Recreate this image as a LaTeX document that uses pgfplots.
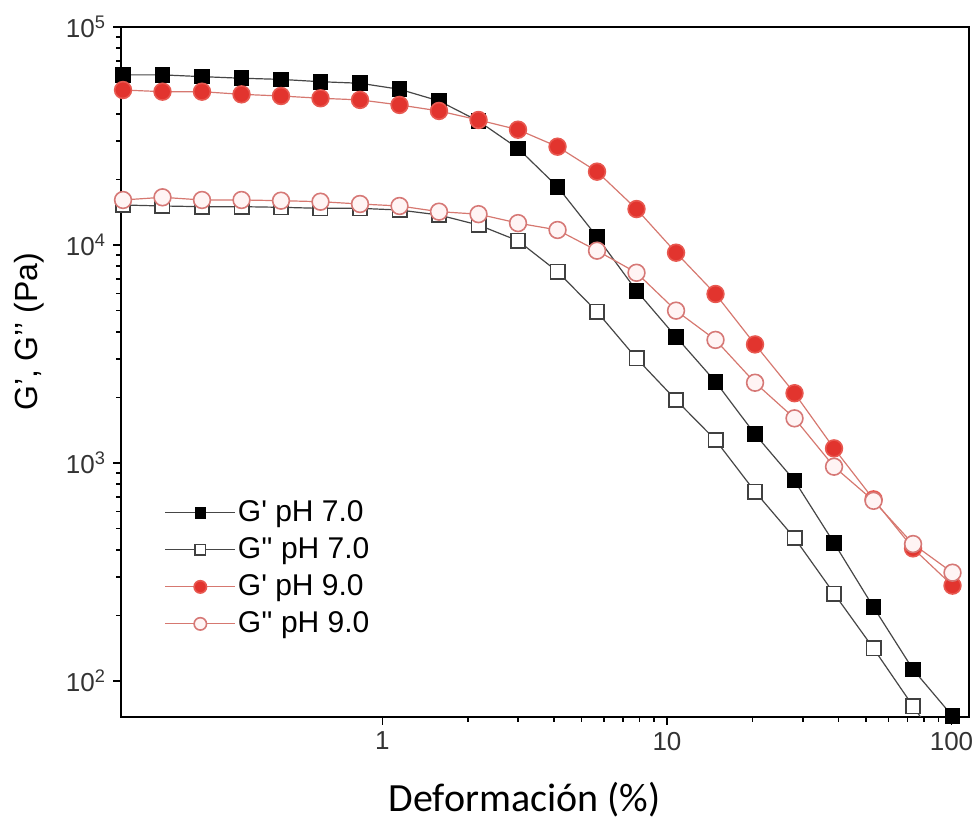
\documentclass[border=0pt]{standalone}
\usepackage{fontspec}
\setmainfont{Liberation Sans}[Ligatures=TeXOff]
\newfontfamily\carlito{Carlito}
\usepackage{pgfplots}
\pgfplotsset{compat=1.18}
\definecolor{redfill}{RGB}{226,52,46}
\definecolor{rededge}{RGB}{232,88,80}
\definecolor{redline}{RGB}{214,120,112}
\definecolor{pinkedge}{RGB}{214,120,118}
\definecolor{pinkfill}{RGB}{255,244,244}
\definecolor{darkline}{RGB}{70,70,70}
\begin{document}
\begin{tikzpicture}
\begin{axis}[
  xmode=log, ymode=log,
  scale only axis,
  width=424pt, height=345pt,
  xmin=0.1205, xmax=115.2,
  ymin=68.4, ymax=100000,
  axis line style={line width=1pt},
  tick align=outside,
  xtick pos=bottom, ytick pos=left,
  major tick length=4pt, minor tick length=2.5pt,
  tick style={line width=0.8pt, black},
  xtick={1,10,100}, xticklabels={1,10,100},
  ytick={100,1000,10000,100000},
  yticklabels={10\textsuperscript{2},10\textsuperscript{3},10\textsuperscript{4},10\textsuperscript{5}},
  tick label style={font=\fontsize{13}{15}\selectfont, text=black!80},
  xlabel={\carlito Deformación (\%)},
  ylabel={G’, G’’ (Pa)},
  xlabel style={at={(axis description cs:0.476,-0.1203)}, anchor=center, font=\fontsize{20}{24}\selectfont},
  ylabel style={at={(axis description cs:-0.1085,0.558)}, anchor=center, font=\fontsize{16}{19}\selectfont},
  legend style={at={(axis description cs:0.044,0.329)}, anchor=north west, draw=none, fill=none,
    font=\fontsize{15}{18}\selectfont, row sep=0pt,
    nodes={inner sep=1pt, minimum height=18.5pt}},
  legend cell align=left,
  legend image code/.code={\draw[mark repeat=2,mark phase=2,#1] plot coordinates {(0pt,0pt) (17.5pt,0pt) (35pt,0pt)};},
  /tikz/every even column/.append style={column sep=5pt},
]
\coordinate (sw) at (rel axis cs:0,0);
\coordinate (ne) at (rel axis cs:1,1);
% G' pH 7.0
\addplot[darkline, line width=0.6pt, mark=square*, mark size=3.6pt, mark options={fill=black, draw=black, solid},
  legend image post style={mark size=2.6pt}] coordinates {
(0.1225,60300) (0.1686,60300) (0.2321,59200) (0.3196,58200) (0.4399,57500) (0.6056,56100)
(0.8337,55200) (1.148,51800) (1.580,45800) (2.176,37000) (2.995,27750) (4.124,18500)
(5.677,10900) (7.815,6170) (10.76,3790) (14.81,2360) (20.39,1355) (28.07,830)
(38.65,430) (53.21,218) (73.25,113) (100.8,69)
};
\addlegendentry{G' pH 7.0}
% G'' pH 7.0
\addplot[darkline, line width=0.6pt, mark=square*, mark size=3.6pt, mark options={fill=white, draw=black!75, line width=0.8pt, solid},
  legend image post style={mark size=2.6pt}] coordinates {
(0.1225,15260) (0.1686,15100) (0.2321,14990) (0.3196,14990) (0.4399,14890) (0.6056,14730)
(0.8337,14730) (1.148,14470) (1.580,13730) (2.176,12350) (2.995,10460) (4.124,7550)
(5.677,4940) (7.815,3020) (10.76,1945) (14.81,1275) (20.39,739) (28.07,453)
(38.65,252) (53.21,141) (73.25,76.7) (100.8,42)
};
\addlegendentry{G'' pH 7.0}
% G' pH 9.0
\addplot[redline, line width=0.6pt, mark=*, mark size=4.2pt, mark options={fill=redfill, draw=rededge, line width=0.8pt, solid},
  legend image post style={mark size=3.1pt}] coordinates {
(0.1225,51400) (0.1686,50500) (0.2321,50500) (0.3196,49100) (0.4399,48250) (0.6056,47100)
(0.8337,46300) (1.148,43900) (1.580,41200) (2.176,37450) (2.995,33800) (4.124,28250)
(5.677,21700) (7.815,14620) (10.76,9220) (14.81,5960) (20.39,3500) (28.07,2090)
(38.65,1167) (53.21,681) (73.25,406) (100.8,274)
};
\addlegendentry{G' pH 9.0}
% G'' pH 9.0
\addplot[redline, line width=0.6pt, mark=*, mark size=4.2pt, mark options={fill=pinkfill, draw=pinkedge, line width=0.8pt, solid},
  legend image post style={mark size=3.1pt}] coordinates {
(0.1225,16090) (0.1686,16550) (0.2321,16090) (0.3196,16090) (0.4399,15970) (0.6056,15800)
(0.8337,15420) (1.148,15100) (1.580,14220) (2.176,13850) (2.995,12600) (4.124,11720)
(5.677,9420) (7.815,7460) (10.76,5000) (14.81,3670) (20.39,2335) (28.07,1603)
(38.65,962) (53.21,671) (73.25,425) (100.8,314)
};
\addlegendentry{G'' pH 9.0}
\end{axis}
\pgfresetboundingbox
\path ([shift={(-60.5pt,-56pt)}]sw) rectangle ([shift={(2.5pt,13.5pt)}]ne);
\end{tikzpicture}
\end{document}
